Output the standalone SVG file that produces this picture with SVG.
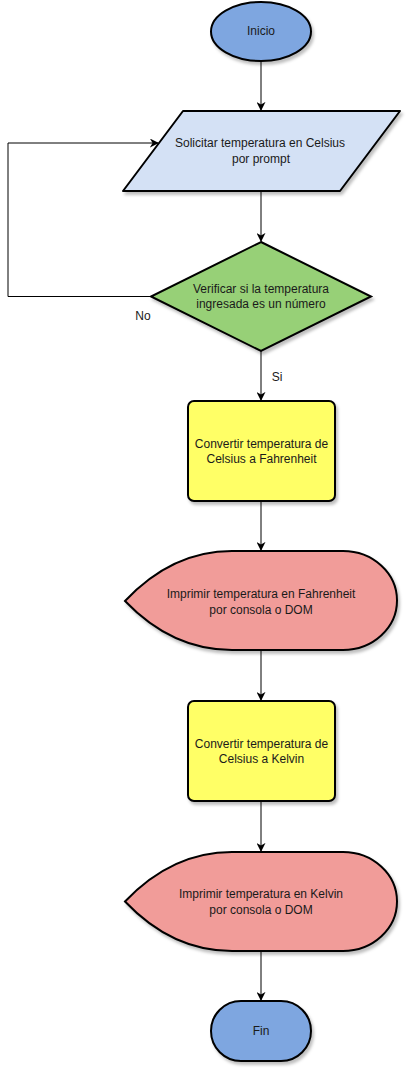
<svg xmlns="http://www.w3.org/2000/svg" width="413" height="1073" viewBox="0 0 413 1073">
<style>
.s{stroke:#000;stroke-width:2;filter:url(#sh)}
.t{font-family:"Liberation Sans",Arial,sans-serif;font-size:12px;fill:#1a1a1a;text-anchor:middle}
.c{fill:none;stroke:#000;stroke-width:1}
</style>
<defs>
<filter id="sh" x="-10%" y="-10%" width="130%" height="130%">
<feDropShadow dx="2" dy="3" stdDeviation="1.5" flood-color="#000" flood-opacity="0.25"/>
</filter>
<marker id="a" viewBox="0 0 10 10" refX="9" refY="5" markerWidth="9" markerHeight="9" markerUnits="userSpaceOnUse" orient="auto">
<path d="M0,0 L10,5 L0,10 L3,5 Z" fill="#000"/>
</marker>
</defs>
<rect width="413" height="1073" fill="#fff"/>
<g id="connectors">
<path class="c" d="M261 61 V110" marker-end="url(#a)"/>
<path class="c" d="M261 191 V241" marker-end="url(#a)"/>
<path class="c" d="M151 296.5 H8 V143 H158" marker-end="url(#a)"/>
<path class="c" d="M261 351 V400" marker-end="url(#a)"/>
<path class="c" d="M261 501 V550" marker-end="url(#a)"/>
<path class="c" d="M261 650 V700" marker-end="url(#a)"/>
<path class="c" d="M261 801 V851" marker-end="url(#a)"/>
<path class="c" d="M261 951 V1000" marker-end="url(#a)"/>
<text class="t" x="143" y="320">No</text>
<text class="t" x="277" y="381">Si</text>
</g>
<g id="inicio">
<ellipse class="s" cx="261" cy="31.5" rx="50" ry="29.5" fill="#7EA6E0"/>
<text class="t" x="261" y="35">Inicio</text>
</g>
<g id="solicitar">
<path class="s" d="M183 111 H400 L340 191 H123 Z" fill="#D4E1F5" stroke-linejoin="round"/>
<text class="t" x="260" y="147">Solicitar temperatura en Celsius</text>
<text class="t" x="261" y="163">por prompt</text>
</g>
<g id="verificar">
<path class="s" d="M261 242 L371 296.5 L261 351 L151 296.5 Z" fill="#97D077"/>
<text class="t" x="261" y="293">Verificar si la temperatura</text>
<text class="t" x="261" y="308">ingresada es un número</text>
</g>
<g id="convertirF">
<rect class="s" x="188" y="401" width="147" height="100" rx="6" fill="#FFFF66"/>
<text class="t" x="261.5" y="447.5">Convertir temperatura de</text>
<text class="t" x="261.5" y="463">Celsius a Fahrenheit</text>
</g>
<g id="imprimirF">
<path class="s" d="M125 601 Q172 551 232 551 H343 A54 49.5 0 0 1 343 650 H232 Q172 650 125 601 Z" fill="#F19C99"/>
<text class="t" x="261" y="597.5">Imprimir temperatura en Fahrenheit</text>
<text class="t" x="261" y="613.5">por consola o DOM</text>
</g>
<g id="convertirK">
<rect class="s" x="188" y="701" width="147" height="100" rx="6" fill="#FFFF66"/>
<text class="t" x="261.5" y="747.5">Convertir temperatura de</text>
<text class="t" x="261.5" y="763">Celsius a Kelvin</text>
</g>
<g id="imprimirK">
<path class="s" d="M125 901.5 Q172 852 232 852 H343 A54 49.5 0 0 1 343 951 H232 Q172 951 125 901.5 Z" fill="#F19C99"/>
<text class="t" x="261" y="897.5">Imprimir temperatura en Kelvin</text>
<text class="t" x="261" y="913.5">por consola o DOM</text>
</g>
<g id="fin">
<rect class="s" x="211" y="1001" width="100" height="60" rx="30" ry="30" fill="#7EA6E0"/>
<text class="t" x="261" y="1035">Fin</text>
</g>
</svg>
